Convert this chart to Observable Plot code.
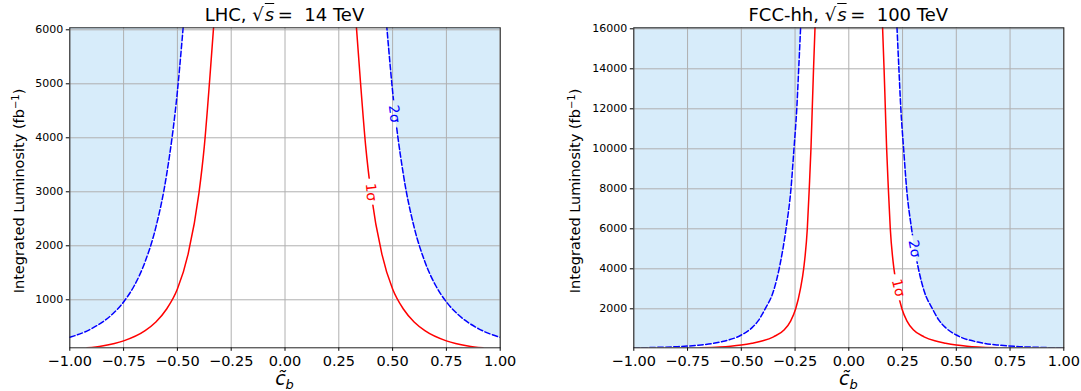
<!DOCTYPE html>
<html><head><meta charset="utf-8">
<script src="https://cdn.jsdelivr.net/npm/d3@7"></script>
<script src="https://cdn.jsdelivr.net/npm/@observablehq/plot@0.6"></script>
<style>
body{margin:0;background:#fff;font-family:"DejaVu Sans",sans-serif;color:#000;}
#wrap{position:relative;width:1081px;height:391px;overflow:hidden;}
.panel{position:absolute;top:0;height:391px;}
.panel svg{position:absolute;left:0;top:0;}
.lab{position:absolute;white-space:nowrap;transform:translate(-50%,-50%);line-height:1;}
.ylab{transform:translate(-50%,-50%) rotate(-90deg);font-size:14.5px;}
.title{font-size:18px;}
.xlab{font-size:19px;font-style:italic;}
.ov{font-style:italic;text-decoration:overline;}
</style>
</head><body>
<div id="wrap"></div>
<script>
// ---- data (left branch; right branch is its mirror) ----
const xTicks = [-1, -0.75, -0.5, -0.25, 0, 0.25, 0.5, 0.75, 1];
const lhcYTicks = [1000, 2000, 3000, 4000, 5000, 6000];
const fccYTicks = [2000, 4000, 6000, 8000, 10000, 12000, 14000, 16000];

// LHC 14 TeV, 1 sigma (red, solid)
const lhcX1 = [-0.92, -0.85, -0.75, -0.65, -0.6, -0.55, -0.5, -0.45, -0.4, -0.375, -0.35, -0.332];
const lhcL1 = [111, 146, 240, 430, 590, 830, 1200, 1850, 2970, 3840, 5070, 6040];
// LHC 14 TeV, 2 sigma (blue, dashed)
const lhcX2 = [-1, -0.9, -0.8, -0.75, -0.7, -0.65, -0.6, -0.55, -0.5, -0.48, -0.472];
const lhcL2 = [305, 463, 742, 960, 1265, 1705, 2345, 3320, 4860, 5730, 6100];

// FCC-hh 100 TeV, 1 sigma
const fccX1 = [-0.69, -0.6, -0.55, -0.5, -0.45, -0.4, -0.35, -0.3, -0.27, -0.247, -0.225, -0.21, -0.193, -0.184, -0.176, -0.17, -0.164, -0.157];
const fccL1 = [50, 90, 130, 190, 280, 400, 600, 950, 1400, 2000, 3000, 4000, 6000, 8000, 10000, 12000, 14000, 16100];
// FCC-hh 100 TeV, 2 sigma
const fccX2 = [-1, -0.96, -0.9, -0.8, -0.7, -0.6, -0.5, -0.45, -0.42, -0.389, -0.35, -0.324, -0.292, -0.269, -0.255, -0.242, -0.233, -0.224];
const fccL2 = [44, 50.5, 68, 105, 180, 335, 690, 1060, 1420, 2000, 2900, 4000, 6000, 8000, 10000, 12000, 14000, 16100];

const lhcDomain = [111, 6037];
const fccDomain = [50, 16050];

// inline contour labels
const lhcLabels = [
  {x: 0.40, y: 2993, text: "1σ", rot: 84, color: "red"},
  {x: 0.508, y: 4444, text: "2σ", rot: 83, color: "blue"}
];
const fccLabels = [
  {x: 0.23, y: 3050, text: "1σ", rot: 76, color: "red"},
  {x: 0.305, y: 5000, text: "2σ", rot: 80, color: "blue"}
];

// ---- drawing ----
const H = 391, FT = 27.3, FB = 347.3;

function branches(xs, ls) {
  const left = xs.map((x, i) => ({x, L: ls[i], side: "left"}));
  const right = xs.map((x, i) => ({x: -x, L: ls[i], side: "right"})).reverse();
  return left.concat(right);
}

function panel(cfg) {
  const {left, width, marginLeft, marginRight, xs1, ls1, xs2, ls2, yDomain, yTicks, labels, title} = cfg;
  const d1 = branches(xs1, ls1), d2 = branches(xs2, ls2);
  const top = yDomain[1];
  const marks = [
    Plot.areaY(d2, {x: "x", y1: "L", y2: () => top, z: "side", fill: "#d7ecfa", curve: "monotone-x", clip: true}),
    Plot.gridX(xTicks, {stroke: "#b0b0b0", strokeOpacity: 1, strokeWidth: 1}),
    Plot.gridY(yTicks, {stroke: "#b0b0b0", strokeOpacity: 1, strokeWidth: 1}),
    Plot.line(d1, {x: "x", y: "L", z: "side", stroke: "#ff0000", strokeWidth: 1.5, curve: "monotone-x", clip: true}),
    Plot.line(d2, {x: "x", y: "L", z: "side", stroke: "#0000ff", strokeWidth: 1.5, strokeDasharray: "5.5,2.5", curve: "monotone-x", clip: true}),
    Plot.text(labels.filter(d => d.color === "red"), {x: "x", y: "y", text: "text", rotate: "rot", fill: "#ff0000", fontSize: 14}),
    Plot.text(labels.filter(d => d.color === "blue"), {x: "x", y: "y", text: "text", rotate: "rot", fill: "#0000ff", fontSize: 14}),
    Plot.axisX({ticks: xTicks, tickFormat: d3.format(".2f"), fontSize: 14.5, tickSize: 3.5, tickPadding: 4, label: null}),
    Plot.axisY({ticks: yTicks, tickFormat: "d", fontSize: 11, tickSize: 3.5, tickPadding: 3, label: null}),
    Plot.frame({stroke: "#222", strokeWidth: 1})
  ];
  const svg = Plot.plot({
    width, height: H,
    marginTop: FT, marginBottom: H - FB, marginLeft, marginRight,
    x: {domain: [-1, 1]},
    y: {domain: yDomain},
    style: {fontFamily: "DejaVu Sans", background: "transparent", color: "#000", overflow: "visible"},
    marks
  });
  // break the contour lines where the inline labels sit
  const fw = width - marginLeft - marginRight, fh = FB - FT;
  const px = x => marginLeft + (x + 1) / 2 * fw;
  const py = y => FB - (y - yDomain[0]) / (yDomain[1] - yDomain[0]) * fh;
  const ns = "http://www.w3.org/2000/svg";
  const id = "m" + left;
  const defs = document.createElementNS(ns, "defs");
  const mask = document.createElementNS(ns, "mask");
  mask.setAttribute("id", id);
  mask.setAttribute("maskUnits", "userSpaceOnUse");
  mask.setAttribute("x", 0); mask.setAttribute("y", 0);
  mask.setAttribute("width", width); mask.setAttribute("height", H);
  const full = document.createElementNS(ns, "rect");
  full.setAttribute("x", 0); full.setAttribute("y", 0);
  full.setAttribute("width", width); full.setAttribute("height", H);
  full.setAttribute("fill", "white");
  mask.appendChild(full);
  for (const d of labels) {
    const r = document.createElementNS(ns, "rect");
    r.setAttribute("x", px(d.x) - 7); r.setAttribute("y", py(d.y) - 13);
    r.setAttribute("width", 14); r.setAttribute("height", 26);
    r.setAttribute("fill", "black");
    mask.appendChild(r);
  }
  defs.appendChild(mask);
  svg.appendChild(defs);
  svg.querySelectorAll('g[aria-label="line"]').forEach(g => g.setAttribute("mask", `url(#${id})`));

  const div = document.createElement("div");
  div.className = "panel";
  div.style.left = left + "px";
  div.style.width = width + "px";
  div.appendChild(svg);
  const cx = marginLeft + fw / 2;
  const t = document.createElement("div");
  t.className = "lab title";
  t.style.left = cx + "px"; t.style.top = "14.5px";
  t.innerHTML = title;
  div.appendChild(t);
  const yl = document.createElement("div");
  yl.className = "lab ylab";
  yl.style.left = cfg.ylabX + "px"; yl.style.top = "190.5px";
  yl.innerHTML = "Integrated Luminosity (fb<sup style='font-size:10px;vertical-align:5px'>−1</sup>)";
  div.appendChild(yl);
  const xl = document.createElement("div");
  xl.className = "lab xlab";
  xl.style.left = cx + "px"; xl.style.top = "380px";
  xl.innerHTML = "c\u0303<sub style='font-size:13px'>b</sub>";
  div.appendChild(xl);
  document.getElementById("wrap").appendChild(div);
}

panel({left: 0, width: 540, marginLeft: 69.3, marginRight: 40.3,
  xs1: lhcX1, ls1: lhcL1, xs2: lhcX2, ls2: lhcL2, yDomain: lhcDomain, yTicks: lhcYTicks,
  labels: lhcLabels, ylabX: 18.5,
  title: "LHC,&nbsp;<span style='padding-right:1px'>√</span><span class='ov'>s</span>&thinsp;=&nbsp;&nbsp;14 TeV"});
panel({left: 540, width: 541, marginLeft: 93.3, marginRight: 17.7,
  xs1: fccX1, ls1: fccL1, xs2: fccX2, ls2: fccL2, yDomain: fccDomain, yTicks: fccYTicks,
  labels: fccLabels, ylabX: 35,
  title: "FCC-hh,&nbsp;<span style='padding-right:1px'>√</span><span class='ov'>s</span>&thinsp;=&nbsp;&nbsp;100 TeV"});
</script>
</body></html>
